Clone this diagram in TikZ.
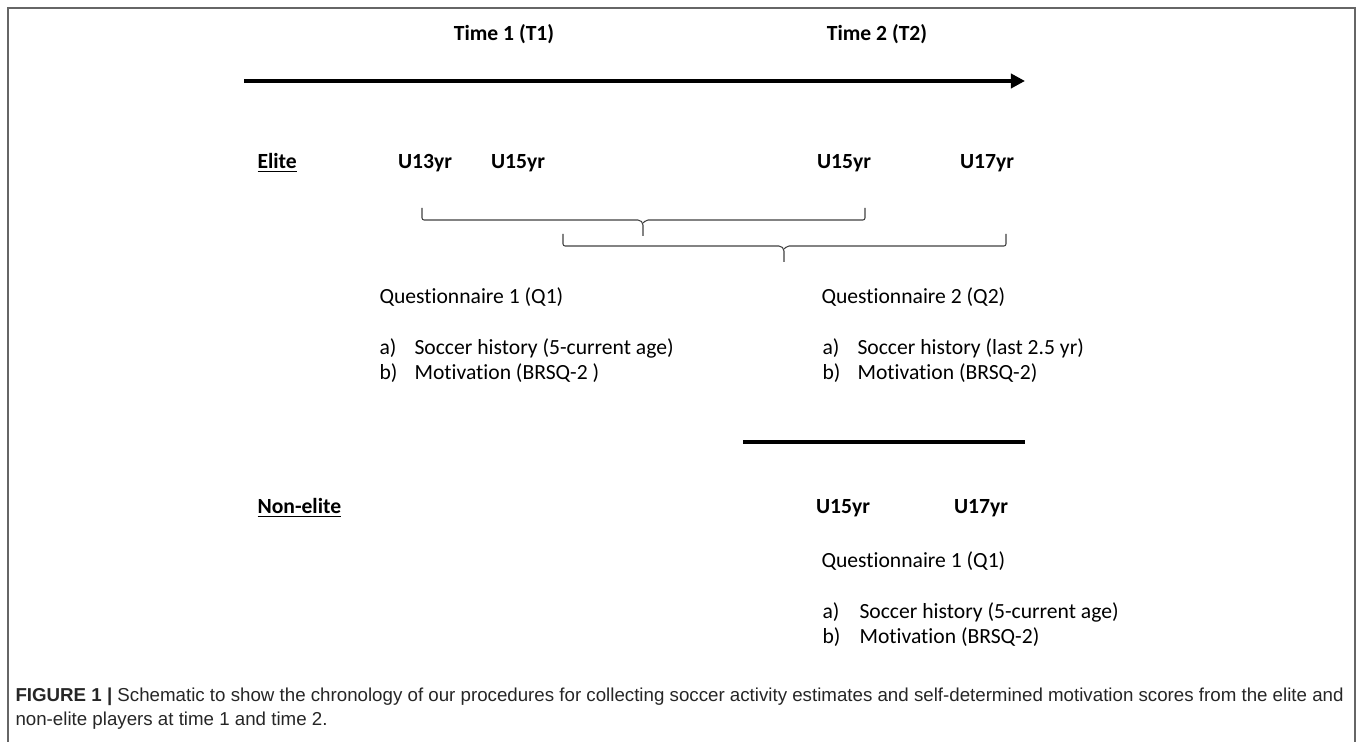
\documentclass[tikz,border=0pt]{standalone}
\usepackage{fontspec}
\setmainfont{Carlito}[Ligatures=NoCommon]
\newfontfamily\capfont{Liberation Sans}
\usetikzlibrary{arrows.meta, calc, positioning}

\begin{document}
\begin{tikzpicture}[x=0.02cm, y=-0.02cm, semithick,
  every node/.style={inner sep=0pt, font=\fontsize{12.3}{14}\selectfont},
  lbl/.style={anchor=base west},
  hd/.style={anchor=base, font=\fontsize{12.3}{14}\selectfont\bfseries},
  grp/.style={anchor=base west, font=\fontsize{12.3}{14}\selectfont\bfseries},
  captxt/.style={anchor=base west, text=black!85, font=\capfont\fontsize{10.65}{13.6}\selectfont},
  timeline/.style={line width=2.8pt},
  brc/.style={line width=0.6pt, black!75, rounded corners=1.2pt}]
\useasboundingbox (0,0) rectangle (1358,742);
\draw[black!60, line width=0.6pt] (8,742) -- (8,8) -- (1355,8) -- (1355,742);

% time axis
\coordinate (ax0) at (244,81);
\coordinate (ax1) at (1025,81);
\draw[timeline, -{Triangle[length=8pt,width=8pt]}] (ax0) -- (ax1);
\node[hd] (time1) at (504,41) {Time 1 (T1)};
\node[hd] (time2) at (877,41) {Time 2 (T2)};

% elite players
\node[grp] (elite) at (257,169) {\underline{Elite}};
\node[hd] (e13) at (425,169) {U13yr};
\node[hd] (e15a) at (518,169) {U15yr};
\node[hd] (e15b) at (844,169) {U15yr};
\node[hd] (e17) at (987,169) {U17yr};
\coordinate (b1l) at (422,208);
\coordinate (b1m) at (643,220);
\coordinate (b1r) at (865,208);
\coordinate (b2l) at (563,234);
\coordinate (b2m) at (784,246);
\coordinate (b2r) at (1006,234);
\draw[brc] (b1l) |- ($(b1m)+(-3,0)$) -- ($(b1m)+(0,3)$) -- ($(b1m)+(0,16)$);
\draw[brc] (b1r) |- ($(b1m)+(3,0)$) -- ($(b1m)+(0,3)$);
\draw[brc] (b2l) |- ($(b2m)+(-3,0)$) -- ($(b2m)+(0,3)$) -- ($(b2m)+(0,16)$);
\draw[brc] (b2r) |- ($(b2m)+(3,0)$) -- ($(b2m)+(0,3)$);

\node[lbl] (q1) at (379,304) {Questionnaire 1 (Q1)};
\node[lbl] (q1a) at (379,355) {a)};
\node[lbl] (q1at) at (414,355) {Soccer history (5-current age)};
\node[lbl] (q1b) at (379,380) {b)};
\node[lbl] (q1bt) at (414,380) {Motivation (BRSQ-2 )};

\node[lbl] (q2) at (821,304) {Questionnaire 2 (Q2)};
\node[lbl] (q2a) at (822,355) {a)};
\node[lbl] (q2at) at (857,355) {Soccer history (last 2.5 yr)};
\node[lbl] (q2b) at (822,380) {b)};
\node[lbl] (q2bt) at (857,380) {Motivation (BRSQ-2)};

% non-elite players
\coordinate (ne0) at (743,442);
\coordinate (ne1) at (1025,442);
\draw[timeline] (ne0) -- (ne1);
\node[grp] (nonelite) at (257,514) {\underline{Non-elite}};
\node[hd] (n15) at (843,514) {U15yr};
\node[hd] (n17) at (981,514) {U17yr};

\node[lbl] (n1) at (821,567) {Questionnaire 1 (Q1)};
\node[lbl] (n1a) at (822,618) {a)};
\node[lbl] (n1at) at (859,618) {Soccer history (5-current age)};
\node[lbl] (n1b) at (822,643) {b)};
\node[lbl] (n1bt) at (859,643) {Motivation (BRSQ-2)};

\node[captxt] (cap1) at (15,701) {\textbf{FIGURE 1 |} Schematic to show the chronology of our procedures for collecting soccer activity estimates and self-determined motivation scores from the elite and};
\node[captxt] (cap2) at (15,725) {non-elite players at time 1 and time 2.};
\end{tikzpicture}
\end{document}
